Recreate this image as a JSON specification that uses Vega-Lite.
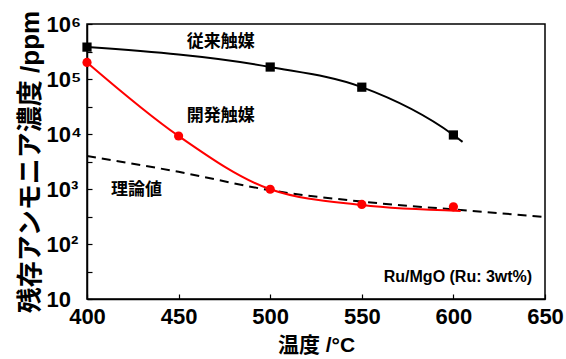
{
  "$schema": "https://vega.github.io/schema/vega-lite/v6.json",
  "width": 458,
  "height": 275,
  "autosize": "none",
  "padding": {"left": 87, "top": 24, "right": 21, "bottom": 60},
  "background": "white",
  "config": {
    "view": {"stroke": "black", "strokeWidth": 1.5},
    "axis": {"grid": false, "domain": true, "domainColor": "black", "domainWidth": 1.5, "tickColor": "black", "tickWidth": 1.2, "tickSize": -5, "labelFont": "Liberation Sans", "labelFontWeight": "bold", "labelColor": "black", "titleFont": "Liberation Sans, Noto Sans CJK JP", "titleFontWeight": "bold", "titleColor": "black"}
  },
  "datasets": {
    "pts": [
      {"t": 400, "v": 380000, "s": "従来触媒"},
      {"t": 500, "v": 165000, "s": "従来触媒"},
      {"t": 550, "v": 71000, "s": "従来触媒"},
      {"t": 600, "v": 9600, "s": "従来触媒"},
      {"t": 400, "v": 200000, "s": "開発触媒"},
      {"t": 450, "v": 9200, "s": "開発触媒"},
      {"t": 500, "v": 990, "s": "開発触媒"},
      {"t": 550, "v": 525, "s": "開発触媒"},
      {"t": 600, "v": 475, "s": "開発触媒"}
    ],
    "curves": [
      {"t": 400, "v": 380000, "s": "従来触媒"},
      {"t": 500, "v": 165000, "s": "従来触媒"},
      {"t": 550, "v": 71000, "s": "従来触媒"},
      {"t": 600, "v": 9600, "s": "従来触媒"},
      {"t": 605, "v": 7200, "s": "従来触媒"},
      {"t": 400, "v": 200000, "s": "開発触媒"},
      {"t": 450, "v": 9200, "s": "開発触媒"},
      {"t": 500, "v": 990, "s": "開発触媒"},
      {"t": 550, "v": 510, "s": "開発触媒"},
      {"t": 604, "v": 400, "s": "開発触媒"}
    ],
    "theory": [
      {"t": 400, "v": 3980},
      {"t": 450, "v": 2050},
      {"t": 500, "v": 950},
      {"t": 550, "v": 590},
      {"t": 600, "v": 425},
      {"t": 650, "v": 310}
    ],
    "labels": [
      {"t": 473, "v": 470000, "txt": "従来触媒"},
      {"t": 473, "v": 21000, "txt": "開発触媒"},
      {"t": 427, "v": 950, "txt": "理論値"}
    ],
    "note": [
      {"t": 643, "v": 25, "txt": "Ru/MgO (Ru: 3wt%)"}
    ]
  },
  "layer": [
    {
      "data": {"name": "theory"},
      "mark": {"type": "line", "color": "black", "strokeWidth": 2, "strokeDash": [9, 6], "interpolate": "monotone", "clip": true},
      "encoding": {
        "x": {"field": "t", "type": "quantitative", "scale": {"domain": [400, 650], "nice": false}, "axis": {"values": [400, 450, 500, 550, 600, 650], "labelFlush": false, "labelFontSize": 22, "labelPadding": 12, "title": "温度 /°C", "titleFontSize": 21, "titlePadding": 7}},
        "y": {"field": "v", "type": "quantitative", "scale": {"type": "log", "domain": [10, 1000000], "nice": false}, "axis": {"values": [10, 31.62, 100, 316.2, 1000, 3162, 10000, 31620, 100000, 316200, 1000000], "labelExpr": "datum.value == 10 ? '10' : datum.value == 100 ? '10²' : datum.value == 1000 ? '10³' : datum.value == 10000 ? '10⁴' : datum.value == 100000 ? '10⁵' : datum.value == 1000000 ? '10⁶' : ''", "labelAlign": "left", "labelFontSize": 22, "labelPadding": 46, "labelFlush": false, "title": "残存アンモニア濃度 /ppm", "titleFontSize": 26, "titlePadding": 3}}
      }
    },
    {
      "data": {"name": "curves"},
      "mark": {"type": "line", "strokeWidth": 2, "interpolate": "monotone"},
      "encoding": {
        "x": {"field": "t", "type": "quantitative"},
        "y": {"field": "v", "type": "quantitative"},
        "color": {"field": "s", "type": "nominal", "scale": {"domain": ["従来触媒", "開発触媒"], "range": ["black", "#ff0000"]}, "legend": null}
      }
    },
    {
      "data": {"name": "pts"},
      "mark": {"type": "point", "filled": true, "opacity": 1, "size": 85},
      "encoding": {
        "x": {"field": "t", "type": "quantitative"},
        "y": {"field": "v", "type": "quantitative"},
        "color": {"field": "s", "type": "nominal", "scale": {"domain": ["従来触媒", "開発触媒"], "range": ["black", "#ff0000"]}, "legend": null},
        "shape": {"field": "s", "type": "nominal", "scale": {"domain": ["従来触媒", "開発触媒"], "range": ["square", "circle"]}, "legend": null}
      }
    },
    {
      "data": {"name": "labels"},
      "mark": {"type": "text", "font": "Noto Sans CJK JP", "fontWeight": "bold", "fontSize": 17, "color": "black", "baseline": "middle", "align": "center"},
      "encoding": {
        "x": {"field": "t", "type": "quantitative"},
        "y": {"field": "v", "type": "quantitative"},
        "text": {"field": "txt"}
      }
    },
    {
      "data": {"name": "note"},
      "mark": {"type": "text", "font": "Liberation Sans", "fontWeight": "bold", "fontSize": 16, "color": "black", "baseline": "middle", "align": "right"},
      "encoding": {
        "x": {"field": "t", "type": "quantitative"},
        "y": {"field": "v", "type": "quantitative"},
        "text": {"field": "txt"}
      }
    }
  ]
}
